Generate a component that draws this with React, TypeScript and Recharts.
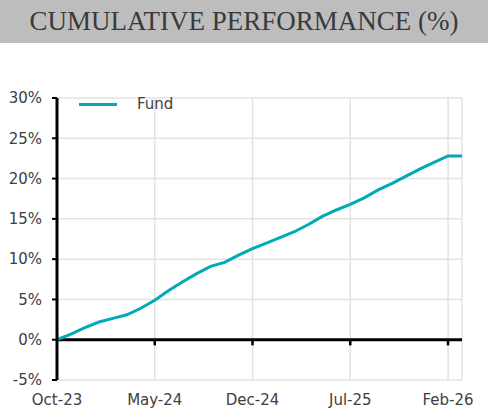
import React from "react";
import {
  LineChart,
  Line,
  XAxis,
  YAxis,
  CartesianGrid,
  ReferenceLine,
  Legend,
} from "recharts";

const months = [
  "Oct-23", "Nov-23", "Dec-23", "Jan-24", "Feb-24", "Mar-24", "Apr-24", "May-24",
  "Jun-24", "Jul-24", "Aug-24", "Sep-24", "Oct-24", "Nov-24", "Dec-24", "Jan-25",
  "Feb-25", "Mar-25", "Apr-25", "May-25", "Jun-25", "Jul-25", "Aug-25", "Sep-25",
  "Oct-25", "Nov-25", "Dec-25", "Jan-26", "Feb-26", "Mar-26",
];

const fundValues = [
  0, 0.7, 1.5, 2.2, 2.65, 3.1, 3.9, 4.9,
  6.1, 7.2, 8.2, 9.1, 9.6, 10.5, 11.3, 12.0,
  12.7, 13.4, 14.3, 15.3, 16.1, 16.8, 17.6, 18.6,
  19.4, 20.3, 21.2, 22.0, 22.8, 22.8,
];

const yTicks = [-5, 0, 5, 10, 15, 20, 25, 30];
const xTickLabels = ["May-24", "Dec-24", "Jul-25", "Feb-26"];

const title = "CUMULATIVE PERFORMANCE (%)";
const seriesName = "Fund";
const lineColor = "#00AAB7";

const data = months.map((m, i) => ({ month: m, fund: fundValues[i] }));

const axisFont = "'DejaVu Sans', sans-serif";

const LegendContent = () => (
  <div style={{ display: "flex", alignItems: "center", height: 18, fontFamily: axisFont, fontSize: 15, color: "#404040" }}>
    <span style={{ display: "inline-block", width: 38, height: 3, background: lineColor, marginRight: 20 }} />
    <span>{seriesName}</span>
  </div>
);

export default function App() {
  return (
    <div style={{ position: "relative", width: 488, height: 417, background: "#fff" }}>
      <style>{`body{margin:0}`}</style>
      <div
        style={{
          position: "absolute",
          top: 0,
          left: 0,
          width: 488,
          height: 43,
          lineHeight: "43px",
          background: "#BDBDBD",
          textAlign: "center",
          fontFamily: "'Liberation Serif', serif",
          fontSize: 27,
          color: "#3a3a3a",
          whiteSpace: "nowrap",
        }}
      >
        {title}
      </div>
      <div style={{ position: "absolute", top: 0, left: 0 }}>
        <LineChart
          width={488}
          height={417}
          data={data}
          margin={{ top: 80, right: 26, bottom: 7, left: 0 }}
        >
          <CartesianGrid stroke="#E3E3E3" strokeWidth={1.5} />
          <XAxis
            dataKey="month"
            interval={6}
            axisLine={false}
            tickLine={false}
            tickSize={0}
            tickMargin={14}
            height={30}
            tick={{ fontFamily: axisFont, fontSize: 15, fill: "#404040" }}
          />
          <YAxis
            domain={[-5, 30]}
            ticks={yTicks}
            width={57}
            tickFormatter={(v) => `${v}%`}
            axisLine={{ stroke: "#000", strokeWidth: 3 }}
            tickLine={{ stroke: "#000", strokeWidth: 2 }}
            tickSize={5}
            tickMargin={10}
            tick={{ fontFamily: axisFont, fontSize: 15, fill: "#404040" }}
          />
          <ReferenceLine y={0} stroke="#000" strokeWidth={3} />
          {xTickLabels.map((m) => (
            <ReferenceLine
              key={m}
              segment={[
                { x: m, y: 0 },
                { x: m, y: -0.7 },
              ]}
              stroke="#000"
              strokeWidth={2.5}
            />
          ))}
          <Legend
            verticalAlign="top"
            align="left"
            content={<LegendContent />}
            wrapperStyle={{ top: 95, left: 79, width: "auto" }}
          />
          <Line
            type="linear"
            dataKey="fund"
            name={seriesName}
            stroke={lineColor}
            strokeWidth={3}
            dot={false}
            isAnimationActive={false}
          />
        </LineChart>
      </div>
    </div>
  );
}
